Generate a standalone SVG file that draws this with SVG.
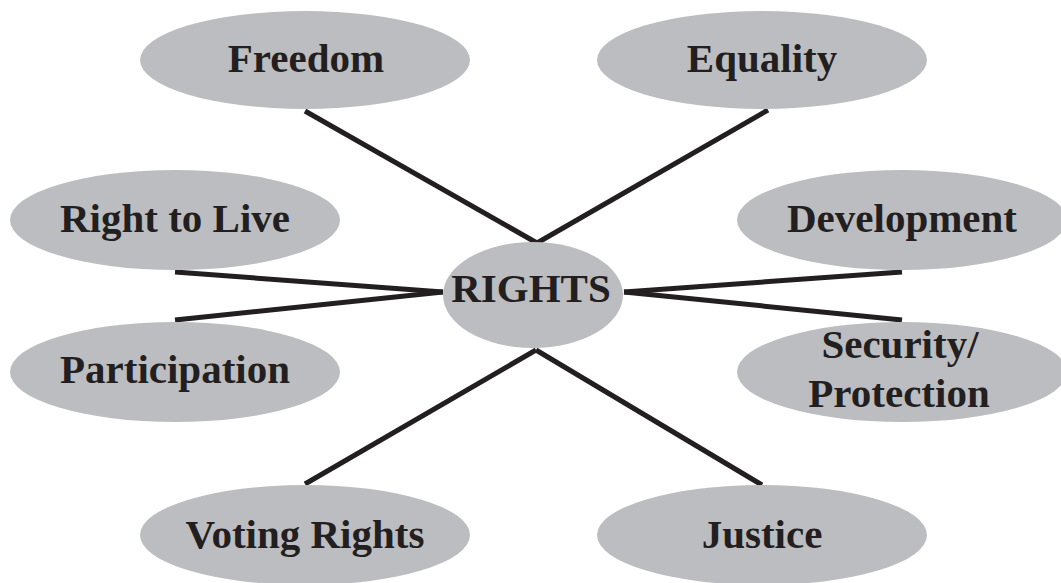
<svg xmlns="http://www.w3.org/2000/svg" width="1061" height="583" viewBox="0 0 1061 583">
<style>
.n{fill:#bcbdc0;}
.t{font-family:"Liberation Serif","Times New Roman",serif;font-weight:bold;font-size:41px;fill:#231f20;text-anchor:middle;}
.c line{stroke:#231f20;stroke-width:5;}
</style>
<rect width="1061" height="583" fill="#ffffff"/>
<g id="connectors" class="c">
<line x1="305" y1="111" x2="537" y2="243"/>
<line x1="768" y1="110" x2="537" y2="243"/>
<line x1="175" y1="272" x2="443" y2="292"/>
<line x1="175" y1="320" x2="443" y2="292"/>
<line x1="902" y1="272" x2="624" y2="292"/>
<line x1="902" y1="320" x2="624" y2="292"/>
<line x1="305" y1="484" x2="536" y2="350"/>
<line x1="762" y1="485" x2="536" y2="350"/>
</g>
<g id="freedom"><ellipse class="n" cx="305" cy="60" rx="165" ry="49"/><text class="t" x="306" y="72">Freedom</text></g>
<g id="equality"><ellipse class="n" cx="762" cy="60" rx="165" ry="49"/><text class="t" x="762" y="72">Equality</text></g>
<g id="right-to-live"><ellipse class="n" cx="175" cy="220" rx="165" ry="50"/><text class="t" x="175" y="232">Right to Live</text></g>
<g id="development"><ellipse class="n" cx="902" cy="220" rx="165" ry="50"/><text class="t" x="902" y="232">Development</text></g>
<g id="rights"><ellipse class="n" cx="533" cy="295" rx="90" ry="53"/><text class="t" x="531" y="302">RIGHTS</text></g>
<g id="participation"><ellipse class="n" cx="175" cy="372" rx="165" ry="50"/><text class="t" x="175" y="383">Participation</text></g>
<g id="security"><ellipse class="n" cx="902" cy="372" rx="165" ry="50"/><text class="t" x="900" y="358">Security/</text><text class="t" x="899" y="407">Protection</text></g>
<g id="voting-rights"><ellipse class="n" cx="305" cy="535" rx="165" ry="50"/><text class="t" x="305" y="548">Voting Rights</text></g>
<g id="justice"><ellipse class="n" cx="762" cy="535" rx="165" ry="50"/><text class="t" x="762" y="548">Justice</text></g>
</svg>
